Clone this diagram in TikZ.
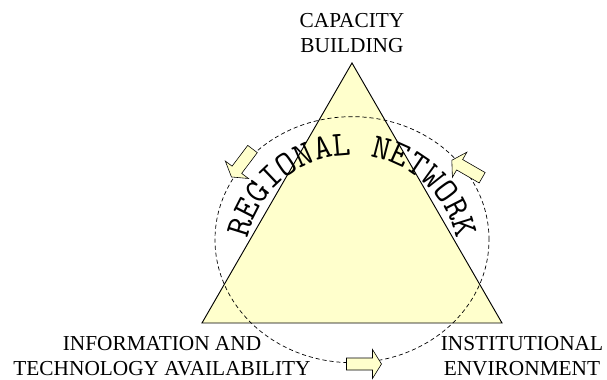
\documentclass[tikz,border=0pt]{standalone}
\usepackage{fontspec}
\setmainfont{Liberation Serif}
\newfontfamily\labelfont{Liberation Serif}
\usetikzlibrary{decorations.text}

\definecolor{paleyellow}{RGB}{255,255,204}

\tikzset{
  flow arrow/.pic={
    \filldraw[fill=paleyellow, draw=black, line width=0.5pt]
      (-0.525,-0.18) -- (0.255,-0.18) -- (0.255,-0.435) -- (0.525,0)
      -- (0.255,0.435) -- (0.255,0.18) -- (-0.525,0.18) -- cycle;
  },
  corner label/.style={font=\labelfont\fontsize{18.2}{21.4}\selectfont, align=center,
    inner sep=0pt, anchor=south},
}

\begin{document}
\begin{tikzpicture}
  \useasboundingbox (-10.56,-1.68) rectangle (7.65,9.69);

  \coordinate (a) at (-4.5,0);
  \coordinate (b) at (4.5,0);
  \coordinate (c) at (0,7.8);
  \filldraw[fill=paleyellow, line width=0.8pt] (a) -- (b) -- (c) -- cycle;

  % ring around the triangle
  \draw[dash pattern=on 3.5pt off 2.5pt, line width=0.6pt] (0,2.5) ellipse [x radius=4.11, y radius=3.69];

  \path (-3.3,4.8)   pic[rotate=233] {flow arrow};
  \path (3.45,4.62)  pic[rotate=150] {flow arrow};
  \path (0.36,-1.23) pic {flow arrow};

  % arched title
  \path[decorate, decoration={text along path, text align=center,
      text={|\ttfamily\fontsize{30}{30}\selectfont|REGIONAL NETWORK}}]
    (-3.21,1.83) arc[start angle=180, end angle=0, radius=3.21];

  \node (capacity) at (0,8.1)      [corner label] {CAPACITY\\BUILDING};
  \node (info)     at (-5.7,-1.6)  [corner label] {INFORMATION AND\\TECHNOLOGY AVAILABILITY};
  \node (inst)     at (5.1,-1.6)   [corner label] {INSTITUTIONAL\\ENVIRONMENT};
\end{tikzpicture}
\end{document}
